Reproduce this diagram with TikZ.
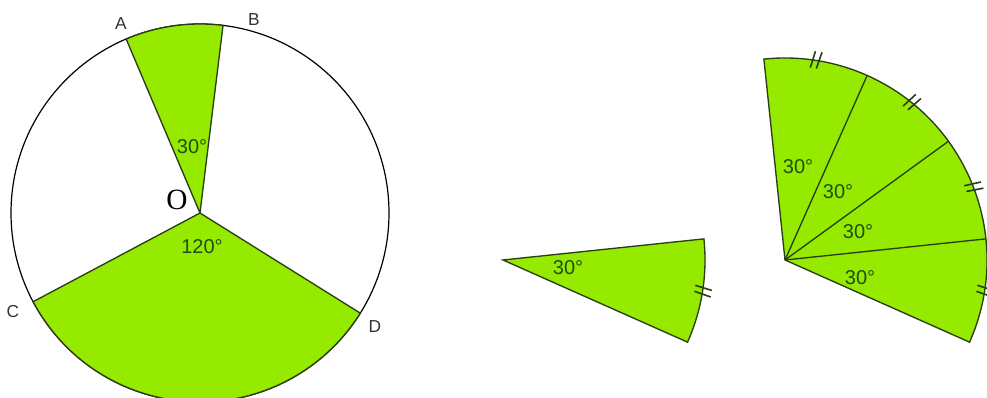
\documentclass[tikz,border=0pt]{standalone}
\usepackage{fontspec}
\setmainfont{Liberation Serif}
\setsansfont{Liberation Sans}
\usepackage{tikz}
\definecolor{cSec}{RGB}{150,234,0}
\definecolor{cEdge}{RGB}{40,62,22}
\definecolor{cLbl}{RGB}{28,78,22}
\tikzset{
  sector/.style={fill=cSec,draw=cEdge,line width=1},
  ang/.style={font=\sffamily\fontsize{15}{18}\selectfont,text=cLbl,inner sep=0pt},
  pt/.style={font=\sffamily\fontsize{13}{15}\selectfont,text=black!80,inner sep=0pt},
  tick/.style={draw=cEdge,line width=1.2},
}
\begin{document}
\begin{tikzpicture}[x=0.75pt,y=0.75pt]
\useasboundingbox (0,0) rectangle (987,398);
\clip (0,0) rectangle (987,398);
% whole circle
\begin{scope}[shift={(200,185)}]
\coordinate (O) at (0,0);
\coordinate (A) at (113:189);
\coordinate (B) at (83:189);
\coordinate (C) at (208:189);
\coordinate (D) at (328:189);
\draw[black,line width=0.9] (O) circle[radius=189];
\filldraw[sector] (O) -- (A) arc[start angle=113,end angle=83,radius=189] -- cycle;
\filldraw[sector] (O) -- (C) arc[start angle=208,end angle=328,radius=189] -- cycle;
\end{scope}
\node[pt] (lblA) at (121,374) {A};
\node[pt] (lblB) at (254,378) {B};
\node[pt] (lblC) at (13,86) {C};
\node[pt] (lblD) at (375,71) {D};
\node[font=\rmfamily\fontsize{22}{25}\selectfont,inner sep=0pt] (lblO) at (177,198) {O};
\node[ang] (angAB) at (192,251) {30°};
\node[ang] (angCD) at (202,151) {120°};
% single sector
\begin{scope}[shift={(503,138)}]
\coordinate (P) at (0,0);
\coordinate (P1) at (-24:202);
\coordinate (P2) at (6:202);
\filldraw[sector] (P) -- (P1) arc[start angle=-24,end angle=6,radius=202] -- cycle;
\draw[tick] (-7.5:194) -- (-8.3:211);
\draw[tick] (-9.3:194) -- (-10.1:211);
\end{scope}
\node[ang] (angP) at (568,130) {30°};
% four sectors side by side
\begin{scope}[shift={(785,138)}]
\coordinate (F) at (0,0);
\coordinate (F1) at (-24:202);
\coordinate (F2) at (6:202);
\coordinate (F3) at (36:202);
\coordinate (F4) at (66:202);
\coordinate (F5) at (96:202);
\filldraw[sector] (F) -- (F1) arc[start angle=-24,end angle=96,radius=202] -- cycle;
\draw[cEdge,line width=1] (F) -- (F2);
\draw[cEdge,line width=1] (F) -- (F3);
\draw[cEdge,line width=1] (F) -- (F4);
\draw[tick] (82.5:194) -- (81.7:211);
\draw[tick] (80.7:194) -- (79.9:211);
\draw[tick] (52.5:194) -- (51.7:211);
\draw[tick] (50.7:194) -- (49.9:211);
\draw[tick] (22.5:194) -- (21.7:211);
\draw[tick] (20.7:194) -- (19.9:211);
\draw[tick] (-7.5:194) -- (-8.3:211);
\draw[tick] (-9.3:194) -- (-10.1:211);
\end{scope}
\node[ang] (angF1) at (798,231) {30°};
\node[ang] (angF2) at (838,206) {30°};
\node[ang] (angF3) at (858,166) {30°};
\node[ang] (angF4) at (860,120) {30°};
\end{tikzpicture}
\end{document}
